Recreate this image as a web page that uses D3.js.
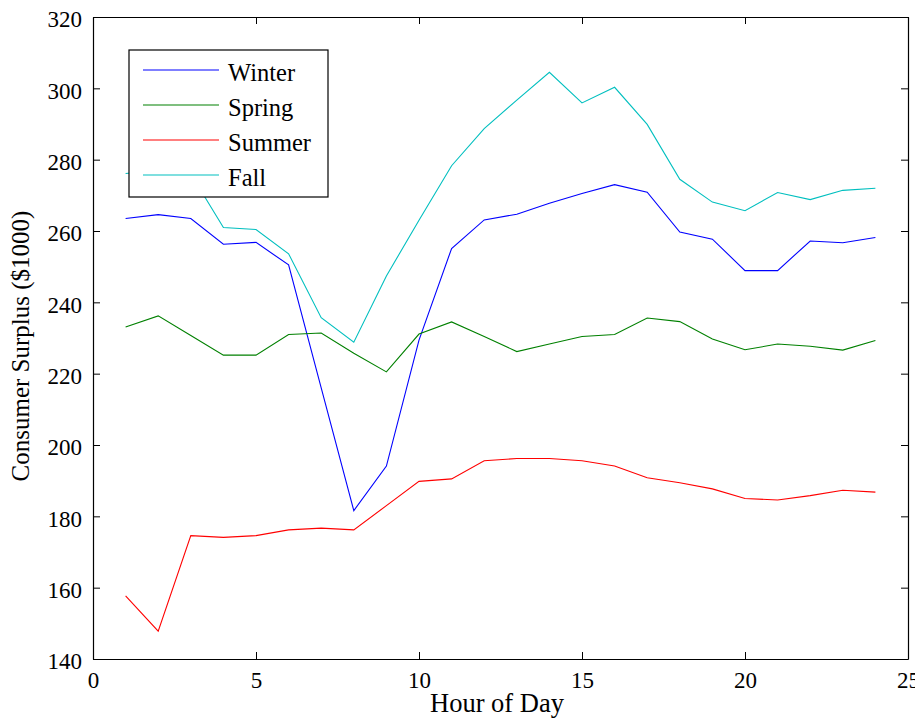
<!DOCTYPE html>
<html>
<head>
<meta charset="utf-8">
<script src="https://cdn.jsdelivr.net/npm/d3@7"></script>
<style>
  html, body { margin: 0; padding: 0; background: #fff; }
  svg { display: block; }
  text { font-family: "Liberation Serif", "Times New Roman", serif; fill: #000; }
</style>
</head>
<body>
<svg id="chart" width="915" height="719"></svg>
<script>
// ---- data ----
const hours = [1,2,3,4,5,6,7,8,9,10,11,12,13,14,15,16,17,18,19,20,21,22,23,24];
const winter = [263.5, 264.6, 263.5, 256.3, 256.8, 250.5, 216.0, 181.6, 194.1, 229.4, 255.1, 263.1, 264.7, 267.8, 270.5, 273.0, 270.9, 259.7, 257.7, 248.9, 248.9, 257.2, 256.7, 258.2];
const spring = [233.1, 236.2, 230.7, 225.2, 225.2, 231.0, 231.4, 225.7, 220.5, 231.1, 234.5, 230.4, 226.2, 228.3, 230.4, 231.0, 235.6, 234.6, 229.7, 226.7, 228.3, 227.7, 226.6, 229.3];
const summer = [157.7, 147.8, 174.6, 174.1, 174.6, 176.2, 176.7, 176.2, 183.0, 189.8, 190.5, 195.6, 196.2, 196.2, 195.6, 194.1, 190.8, 189.4, 187.7, 185.0, 184.6, 185.8, 187.3, 186.8];
const fall = [276.1, 277.0, 276.0, 261.0, 260.4, 253.6, 235.7, 228.8, 247.4, 263.0, 278.3, 288.7, 296.7, 304.5, 295.9, 300.3, 289.9, 274.5, 268.1, 265.7, 270.8, 268.8, 271.4, 272.0];
const seriesNames = ["Winter", "Spring", "Summer", "Fall"];
const seriesColors = ["#0000ff", "#008000", "#ff0000", "#00bfbf"];
const xTicks = [0, 5, 10, 15, 20, 25];
const yTicks = [140, 160, 180, 200, 220, 240, 260, 280, 300, 320];
const xLabel = "Hour of Day";
const yLabel = "Consumer Surplus ($1000)";

const seriesValues = [winter, spring, summer, fall];

// ---- layout ----
const L = 93, R = 908, T = 17, B = 659;
const svg = d3.select("#chart");
const x = d3.scaleLinear().domain([0, 25]).range([L, R]);
const y = d3.scaleLinear().domain([140, 320]).range([B, T]);

// axes
const tickLen = 7;
const gx = svg.append("g").attr("transform", `translate(0,${B})`)
  .call(d3.axisBottom(x).tickValues(xTicks).tickSizeInner(-tickLen).tickSizeOuter(0).tickPadding(13).tickFormat(d3.format("d")));
const gy = svg.append("g").attr("transform", `translate(${L},0)`)
  .call(d3.axisLeft(y).tickValues(yTicks).tickSizeInner(-tickLen).tickSizeOuter(0).tickPadding(11).tickFormat(d3.format("d")));
const gt = svg.append("g").attr("transform", `translate(0,${T})`)
  .call(d3.axisTop(x).tickValues(xTicks).tickSizeInner(-tickLen).tickSizeOuter(0).tickFormat(""));
const gr = svg.append("g").attr("transform", `translate(${R},0)`)
  .call(d3.axisRight(y).tickValues(yTicks).tickSizeInner(-tickLen).tickSizeOuter(0).tickFormat(""));

[gx, gy, gt, gr].forEach(g => {
  g.select(".domain").attr("stroke", "#000").attr("stroke-width", 1.2);
  g.selectAll(".tick line").attr("stroke", "#000").attr("stroke-width", 1);
  g.selectAll(".tick text").style("font-family", '"Liberation Serif", "Times New Roman", serif')
    .style("font-size", "23px").attr("fill", "#000");
});
gy.selectAll(".tick text").attr("dy", "0.42em");

// lines
const line = d3.line().x((d, i) => x(hours[i])).y(d => y(d));
const plot = svg.append("g");
seriesValues.forEach((vals, k) => {
  plot.append("path").datum(vals)
    .attr("d", line)
    .attr("fill", "none")
    .attr("stroke", seriesColors[k])
    .attr("stroke-width", 1.1)
    .attr("stroke-linejoin", "miter");
});

// axis labels
svg.append("text")
  .attr("x", 497).attr("y", 712)
  .attr("text-anchor", "middle")
  .style("font-size", "26.5px")
  .text(xLabel);
svg.append("text")
  .attr("transform", `translate(29,${(T + B) / 2 + 8}) rotate(-90)`)
  .attr("text-anchor", "middle")
  .style("font-size", "25px")
  .text(yLabel);

// legend
const lg = svg.append("g");
lg.append("rect")
  .attr("x", 129).attr("y", 50).attr("width", 199).attr("height", 147)
  .attr("fill", "#fff").attr("stroke", "#000").attr("stroke-width", 1.2);
const rowY = d3.scalePoint().domain(seriesNames).range([70, 175]);
seriesNames.forEach((name, k) => {
  const yy = rowY(name);
  lg.append("line")
    .attr("x1", 143).attr("x2", 219).attr("y1", yy).attr("y2", yy)
    .attr("stroke", seriesColors[k]).attr("stroke-width", 1.1);
  lg.append("text")
    .attr("x", 228).attr("y", yy + 11)
    .style("font-size", "24.5px")
    .text(name);
});
</script>
</body>
</html>
